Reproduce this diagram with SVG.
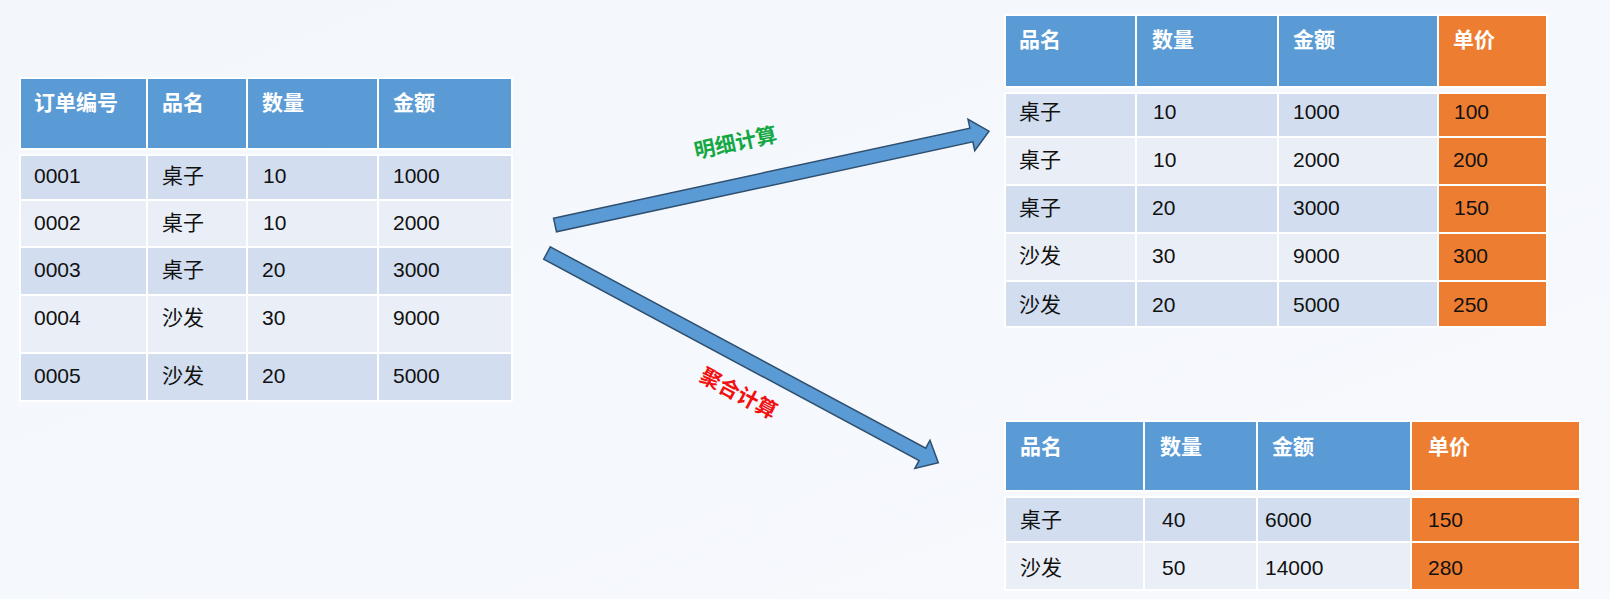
<svg xmlns="http://www.w3.org/2000/svg" width="1610" height="599" viewBox="0 0 1610 599">
<defs>
<linearGradient id="bg" x1="0" y1="0" x2="1" y2="1"><stop offset="0" stop-color="#f3f7fc"/><stop offset="1" stop-color="#f7f9fd"/></linearGradient>
<style>
.h{fill:#5B9BD5;stroke:#fff;stroke-width:2}
.o{fill:#ED7D31;stroke:#fff;stroke-width:2}
.d{fill:#D2DEEF;stroke:#fff;stroke-width:2}
.l{fill:#EAEFF7;stroke:#fff;stroke-width:2}
.ht{font-family:"Liberation Sans","Noto Sans CJK SC",sans-serif;font-size:21px;font-weight:bold;fill:#fff}
.t{font-family:"Liberation Sans","Noto Sans CJK SC",sans-serif;font-size:21px;fill:#111}
.arr{fill:#5B9BD5;stroke:#2f4f6f;stroke-width:1.5}
</style>
</defs>
<rect width="1610" height="599" fill="url(#bg)"/>
<g id="orders">
<rect class="h" x="20" y="78" width="127" height="71"/><rect class="h" x="147" y="78" width="100" height="71"/><rect class="h" x="247" y="78" width="131" height="71"/><rect class="h" x="378" y="78" width="134" height="71"/>
<text class="ht" x="34" y="110">订单编号</text><text class="ht" x="162" y="110">品名</text><text class="ht" x="262" y="110">数量</text><text class="ht" x="393" y="110">金额</text>
<g>
<rect class="d" x="20" y="155" width="127" height="45"/><rect class="d" x="147" y="155" width="100" height="45"/><rect class="d" x="247" y="155" width="131" height="45"/><rect class="d" x="378" y="155" width="134" height="45"/>
<rect class="l" x="20" y="200" width="127" height="47"/><rect class="l" x="147" y="200" width="100" height="47"/><rect class="l" x="247" y="200" width="131" height="47"/><rect class="l" x="378" y="200" width="134" height="47"/>
<rect class="d" x="20" y="247" width="127" height="48"/><rect class="d" x="147" y="247" width="100" height="48"/><rect class="d" x="247" y="247" width="131" height="48"/><rect class="d" x="378" y="247" width="134" height="48"/>
<rect class="l" x="20" y="295" width="127" height="58"/><rect class="l" x="147" y="295" width="100" height="58"/><rect class="l" x="247" y="295" width="131" height="58"/><rect class="l" x="378" y="295" width="134" height="58"/>
<rect class="d" x="20" y="353" width="127" height="48"/><rect class="d" x="147" y="353" width="100" height="48"/><rect class="d" x="247" y="353" width="131" height="48"/><rect class="d" x="378" y="353" width="134" height="48"/>
</g>
<text class="t" x="34" y="183">0001</text><text class="t" x="162" y="183">桌子</text><text class="t" x="263" y="183">10</text><text class="t" x="393" y="183">1000</text>
<text class="t" x="34" y="230">0002</text><text class="t" x="162" y="230">桌子</text><text class="t" x="263" y="230">10</text><text class="t" x="393" y="230">2000</text>
<text class="t" x="34" y="277">0003</text><text class="t" x="162" y="277">桌子</text><text class="t" x="262" y="277">20</text><text class="t" x="393" y="277">3000</text>
<text class="t" x="34" y="325">0004</text><text class="t" x="162" y="325">沙发</text><text class="t" x="262" y="325">30</text><text class="t" x="393" y="325">9000</text>
<text class="t" x="34" y="383">0005</text><text class="t" x="162" y="383">沙发</text><text class="t" x="262" y="383">20</text><text class="t" x="393" y="383">5000</text>
</g>
<g id="detail">
<rect class="h" x="1005" y="15" width="131" height="72"/><rect class="h" x="1136" y="15" width="142" height="72"/><rect class="h" x="1278" y="15" width="160" height="72"/><rect class="o" x="1438" y="15" width="109" height="72"/>
<text class="ht" x="1019" y="47">品名</text><text class="ht" x="1152" y="47">数量</text><text class="ht" x="1293" y="47">金额</text><text class="ht" x="1453" y="47">单价</text>
<rect class="d" x="1005" y="93" width="131" height="44"/><rect class="d" x="1136" y="93" width="142" height="44"/><rect class="d" x="1278" y="93" width="160" height="44"/><rect class="o" x="1438" y="93" width="109" height="44"/>
<rect class="l" x="1005" y="137" width="131" height="48"/><rect class="l" x="1136" y="137" width="142" height="48"/><rect class="l" x="1278" y="137" width="160" height="48"/><rect class="o" x="1438" y="137" width="109" height="48"/>
<rect class="d" x="1005" y="185" width="131" height="48"/><rect class="d" x="1136" y="185" width="142" height="48"/><rect class="d" x="1278" y="185" width="160" height="48"/><rect class="o" x="1438" y="185" width="109" height="48"/>
<rect class="l" x="1005" y="233" width="131" height="48"/><rect class="l" x="1136" y="233" width="142" height="48"/><rect class="l" x="1278" y="233" width="160" height="48"/><rect class="o" x="1438" y="233" width="109" height="48"/>
<rect class="d" x="1005" y="281" width="131" height="46"/><rect class="d" x="1136" y="281" width="142" height="46"/><rect class="d" x="1278" y="281" width="160" height="46"/><rect class="o" x="1438" y="281" width="109" height="46"/>
<text class="t" x="1019" y="119">桌子</text><text class="t" x="1153" y="119">10</text><text class="t" x="1293" y="119">1000</text><text class="t" x="1454" y="119">100</text>
<text class="t" x="1019" y="167">桌子</text><text class="t" x="1153" y="167">10</text><text class="t" x="1293" y="167">2000</text><text class="t" x="1453" y="167">200</text>
<text class="t" x="1019" y="215">桌子</text><text class="t" x="1152" y="215">20</text><text class="t" x="1293" y="215">3000</text><text class="t" x="1454" y="215">150</text>
<text class="t" x="1019" y="263">沙发</text><text class="t" x="1152" y="263">30</text><text class="t" x="1293" y="263">9000</text><text class="t" x="1453" y="263">300</text>
<text class="t" x="1019" y="312">沙发</text><text class="t" x="1152" y="312">20</text><text class="t" x="1293" y="312">5000</text><text class="t" x="1453" y="312">250</text>
</g>
<g id="aggregate">
<rect class="h" x="1005" y="421" width="139" height="70"/><rect class="h" x="1144" y="421" width="113" height="70"/><rect class="h" x="1257" y="421" width="154" height="70"/><rect class="o" x="1411" y="421" width="169" height="70"/>
<text class="ht" x="1020" y="454">品名</text><text class="ht" x="1160" y="454">数量</text><text class="ht" x="1272" y="454">金额</text><text class="ht" x="1428" y="454">单价</text>
<rect class="d" x="1005" y="497" width="139" height="45"/><rect class="d" x="1144" y="497" width="113" height="45"/><rect class="d" x="1257" y="497" width="154" height="45"/><rect class="o" x="1411" y="497" width="169" height="45"/>
<rect class="l" x="1005" y="542" width="139" height="48"/><rect class="l" x="1144" y="542" width="113" height="48"/><rect class="l" x="1257" y="542" width="154" height="48"/><rect class="o" x="1411" y="542" width="169" height="48"/>
<text class="t" x="1020" y="527">桌子</text><text class="t" x="1162" y="527">40</text><text class="t" x="1265" y="527">6000</text><text class="t" x="1428" y="527">150</text>
<text class="t" x="1020" y="575">沙发</text><text class="t" x="1162" y="575">50</text><text class="t" x="1265" y="575">14000</text><text class="t" x="1428" y="575">280</text>
</g>
<g id="connectors">
<polygon class="arr" transform="translate(555,225) rotate(-12.2)" points="0,-7 426,-7 426,-16 444,0 426,16 426,7 0,7"/>
<polygon class="arr" transform="translate(547,253) rotate(28.2)" points="0,-7 426,-7 426,-16 444,0 426,16 426,7 0,7"/>
<text transform="translate(737,150) rotate(-12)" text-anchor="middle" style="font-family:'Liberation Sans','Noto Sans CJK SC',sans-serif;font-size:21px;font-weight:bold;fill:#14A843">明细计算</text>
<text transform="translate(735,400) rotate(28)" text-anchor="middle" style="font-family:'Liberation Sans','Noto Sans CJK SC',sans-serif;font-size:21px;font-weight:bold;fill:#F21010">聚合计算</text>
</g>
</svg>
